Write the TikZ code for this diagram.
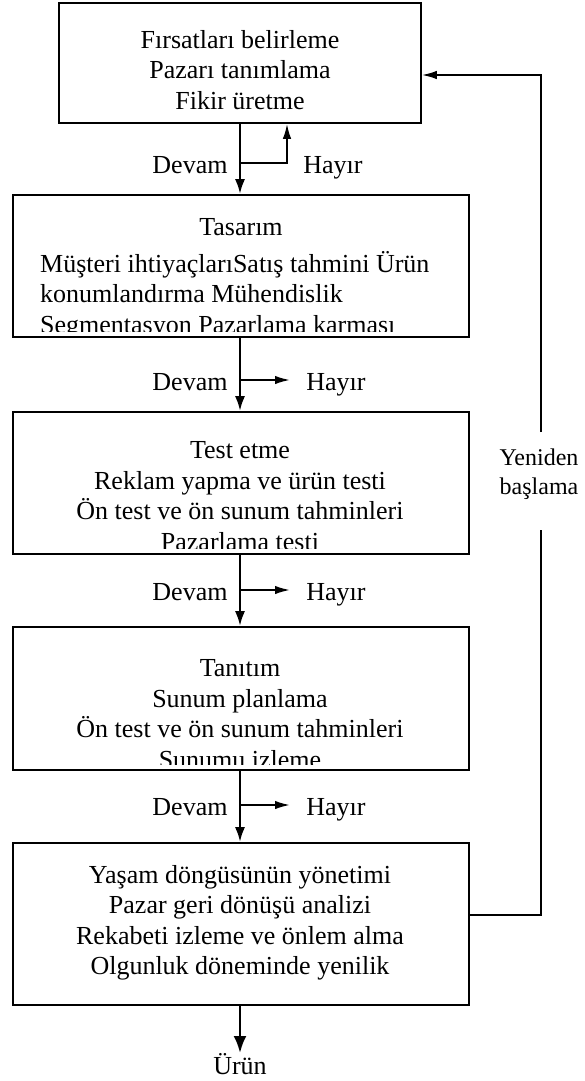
\documentclass[tikz,border=0pt]{standalone}
\usepackage{fontspec}
\setmainfont{Liberation Serif}
\usetikzlibrary{arrows.meta}

\tikzset{%
  >={Latex[length=15pt,width=10pt]},
  box/.style={draw,line width=1.6pt,inner sep=0pt},
  flow/.style={->,line width=2.6pt},
  side/.style={-{Latex[length=15pt,width=8.5pt]},line width=1.9pt},
  txt/.style={font=\fontsize{26}{30.5}\selectfont,align=center,inner sep=0pt},
  lbl/.style={font=\fontsize{26}{30}\selectfont,inner sep=0pt,anchor=base}
}

\begin{document}
\begin{tikzpicture}[x=1pt,y=-1pt]
     \useasboundingbox (0,0) rectangle (584,1081);

     % boxes
     \node[box,minimum width=362pt,minimum height=120pt] (b1) at (240,63) {};
     \foreach \n/\y/\h in {2/266/142, 3/483/142, 4/698.5/143, 5/924/162}
       \node[box,minimum width=456pt,minimum height=\h pt] (b\n) at (241,\y) {};

     \node[txt] (t1) at (240,70) {Fırsatları belirleme\\Pazarı tanımlama\\Fikir üretme};
     \begin{scope}
       \clip (b2.north west) rectangle ([yshift=6pt]b2.south east);
       \node[txt] (t2) at (241,227) {Tasarım};
       \node[txt,align=left,anchor=west] (t2b) at (40,295)
         {Müşteri ihtiyaçlarıSatış tahmini Ürün\\konumlandırma Mühendislik\\Segmentasyon Pazarlama karması};
     \end{scope}
     \foreach \n/\y/\t in
       {3/496/{Test etme\\Reklam yapma ve ürün testi\\Ön test ve ön sunum tahminleri\\Pazarlama testi},
        4/714/{Tanıtım\\Sunum planlama\\Ön test ve ön sunum tahminleri\\Sunumu izleme}}
     {
       \begin{scope}
         \clip (b\n.north west) rectangle ([yshift=6pt]b\n.south east);
         \node[txt] (t\n) at (240,\y) {\t};
       \end{scope}
     }
     \node[txt] (t5) at (240,923) {Yaşam döngüsünün yönetimi\\Pazar geri dönüşü analizi\\Rekabeti izleme ve önlem alma\\Olgunluk döneminde yenilik};

     % main flow
     \foreach \a/\b in {1/2, 2/3, 3/4, 4/5}
       \draw[flow] (b\a.south -| t1) -- (b\b.north -| t1);
     \node[txt,anchor=north] (urun) at (240,1053) {Ürün};
     \draw[flow,-{Latex[length=17pt,width=13pt]}] (b5.south -| urun) -- (urun.north);

     % devam / hayir
     \coordinate (d1) at (240,163);
     \draw[side] (d1) -| ([xshift=47pt]b1.south);
     \node[lbl] (dv1) at (190,173) {Devam};
     \node[lbl] (hy1) at (333,173) {Hayır};
     \foreach \r/\y in {2/380, 3/590, 4/805} {
       \coordinate (d\r) at (240,\y);
       \coordinate (h\r) at (290,\y);
       \draw[side] (d\r) -- (h\r);
       \node[lbl] (dv\r) at (190,\y+10) {Devam};
       \node[lbl] (hy\r) at (336,\y+10) {Hayır};
     }

     % yeniden baslama
     \node[font=\fontsize{24}{29}\selectfont,align=center,inner sep=0pt] (yb) at (539,474) {Yeniden\\başlama};
     \coordinate (r1) at (541,530);
     \coordinate (r2) at (541,432);
     \draw[line width=1.8pt] ([yshift=9pt]b5.east) -| (r1);
     \draw[side] (r2) |- ([yshift=-12pt]b1.east);

\end{tikzpicture}
\end{document}
